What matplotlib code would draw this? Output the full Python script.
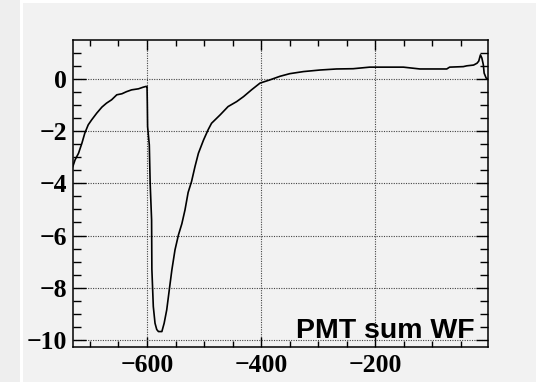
import matplotlib
matplotlib.use('Agg')
import matplotlib.pyplot as plt
from matplotlib.ticker import MultipleLocator
from matplotlib.patches import Rectangle

# summed PMT waveform (time sample, amplitude)
time = [-730, -726, -720, -714, -709, -703, -697, -688, -679, -671,
        -662, -653, -644, -636, -627, -615, -607, -602, -600, -599.5,
        -599, -596, -594.5, -592, -591.5, -589, -586, -583, -580, -574,
        -570, -565.5, -561, -556.5, -551, -545, -539, -533.5, -528, -522,
        -516, -510, -501, -493, -487, -472, -458, -443, -431, -417,
        -402, -385, -367, -350, -326, -297, -268, -239, -210, -180,
        -151, -122, -75, -70, -46, -40, -28, -22, -19, -16,
        -13.5, -11, -9.5, -6, -3]
amp = [-3.36, -3.10, -2.85, -2.46, -2.08, -1.76, -1.57, -1.31, -1.08, -0.93,
       -0.80, -0.61, -0.57, -0.49, -0.42, -0.38, -0.32, -0.29, -0.29, -0.93,
       -1.83, -2.53, -4.00, -5.40, -7.30, -8.72, -9.36, -9.60, -9.68, -9.68,
       -9.36, -8.85, -8.08, -7.32, -6.55, -5.98, -5.55, -5.02, -4.35, -3.93,
       -3.36, -2.85, -2.34, -1.95, -1.70, -1.38, -1.06, -0.87, -0.68, -0.42,
       -0.16, -0.04, 0.10, 0.20, 0.28, 0.34, 0.38, 0.39, 0.45, 0.45,
       0.45, 0.38, 0.38, 0.45, 0.47, 0.50, 0.53, 0.60, 0.68, 0.92,
       0.80, 0.55, 0.22, 0.03, 0.0]

bg = '#f2f2f2'
fig = plt.figure(figsize=(5.36, 3.82), dpi=100, facecolor=bg)
# thin white strips at the left and top of the canvas
fig.add_artist(Rectangle((0, 0), 20 / 536, 1, transform=fig.transFigure,
                         facecolor='#eeeeee', edgecolor='none', zorder=0))
fig.add_artist(Rectangle((20 / 536, 0), 2.5 / 536, 1, transform=fig.transFigure,
                         facecolor='white', edgecolor='none', zorder=0))
fig.add_artist(Rectangle((22 / 536, 1 - 3 / 382), 1, 3 / 382, transform=fig.transFigure,
                         facecolor='white', edgecolor='none', zorder=0))

ax = fig.add_axes([0.1353, 0.0924, 0.7751, 0.8029])
ax.set_facecolor(bg)
ax.plot(time, amp, color='black', lw=1.2)

ax.set_xlim(-730.5, -2.8)
ax.set_ylim(-10.26, 1.49)
ax.xaxis.set_major_locator(MultipleLocator(200))
ax.xaxis.set_minor_locator(MultipleLocator(50))
ax.yaxis.set_major_locator(MultipleLocator(2))
ax.yaxis.set_minor_locator(MultipleLocator(0.5))

ax.grid(True, which='major', color='#444444', linestyle=(0, (1, 1.2)), lw=0.8)
ax.tick_params(which='both', direction='in', top=True, right=True,
               width=1.0, colors='black')
ax.tick_params(axis='x', which='major', length=7, pad=5)
ax.tick_params(axis='x', which='minor', length=4)
ax.tick_params(axis='y', which='major', length=9, pad=4)
ax.tick_params(axis='y', which='minor', length=6)
for lab in ax.get_xticklabels() + ax.get_yticklabels():
    lab.set_family('Liberation Serif')
    lab.set_weight('bold')
    lab.set_fontsize(18.5)
for s in ax.spines.values():
    s.set_linewidth(1.1)

ax.text(0.9687, 0.028, 'PMT sum WF', transform=ax.transAxes, ha='right',
        va='baseline', family='Liberation Sans', weight='bold', fontsize=20.5)

fig.savefig('out.png', dpi=100, facecolor=bg)
